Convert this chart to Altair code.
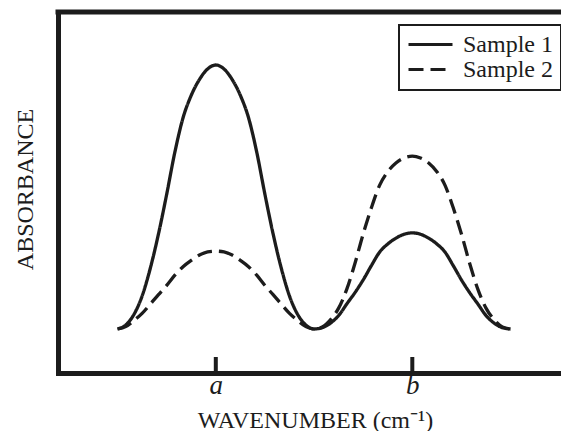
import altair as alt
import pandas as pd

# ---- data ----
x_vals = [round(-0.5 + 0.125 * i, 3) for i in range(49)]  # sample positions (axis units)
sample1 = [0.0, 0.015, 0.055, 0.125, 0.23, 0.36, 0.51, 0.67, 0.80, 0.885, 0.945, 0.985, 1.0,
           0.985, 0.945, 0.885, 0.80, 0.67, 0.51, 0.36, 0.23, 0.125, 0.055, 0.015, 0.0,
           0.005, 0.022, 0.051, 0.095, 0.138, 0.186, 0.240, 0.291, 0.322, 0.344, 0.359, 0.364,
           0.359, 0.344, 0.322, 0.291, 0.240, 0.186, 0.138, 0.095, 0.051, 0.022, 0.005, 0.0]
sample2 = [0.0, 0.009, 0.032, 0.059, 0.094, 0.130, 0.165, 0.204, 0.236, 0.260, 0.280, 0.292, 0.295,
           0.292, 0.280, 0.260, 0.236, 0.204, 0.165, 0.130, 0.094, 0.059, 0.032, 0.009, 0.0,
           0.008, 0.035, 0.079, 0.151, 0.249, 0.360, 0.459, 0.544, 0.596, 0.629, 0.648, 0.655,
           0.648, 0.629, 0.596, 0.544, 0.459, 0.360, 0.249, 0.151, 0.079, 0.035, 0.008, 0.0]
series_names = ["Sample 1", "Sample 2"]
tick_pos = [1, 4]
tick_labels = ["a", "b"]
x_title = "WAVENUMBER (cm\u207b\u00b9)"
y_title = "ABSORBANCE"

INK = "#1c1c1c"
FONT = "Liberation Serif"
W, H = 503, 361

df = pd.DataFrame({
    "x": x_vals * 2,
    "absorbance": sample1 + sample2,
    "series": [series_names[0]] * len(x_vals) + [series_names[1]] * len(x_vals),
})
ticks_df = pd.DataFrame({"x": tick_pos})
frame_df = pd.DataFrame({"k": [0]})

xscale = alt.Scale(domain=[-1.409, 6.27], nice=False, zero=False)
yscale = alt.Scale(domain=[-0.1667, 1.2008], nice=False, zero=False)

label_expr = "[" + ",".join(f"'{l}'" for l in tick_labels) + "][indexof([" + \
    ",".join(str(p) for p in tick_pos) + "], datum.value)]"

x_axis = alt.Axis(
    values=tick_pos, labelExpr=label_expr, title=x_title,
    domainWidth=5, domainColor=INK, domainCap="square",
    ticks=False, tickSize=0, grid=False,
    labelFont=FONT, labelFontStyle="italic", labelFontSize=27, labelColor=INK,
    labelBaseline="alphabetic", labelPadding=20, labelAngle=0,
    titleFont=FONT, titleFontSize=24, titleFontWeight="normal", titleColor=INK,
    titleX=257, titleY=54, titleBaseline="alphabetic", titleAlign="center",
)
y_axis = alt.Axis(
    title=y_title, labels=False, ticks=False, tickSize=0, grid=False,
    domainWidth=5, domainColor=INK, domainCap="square",
    titleFont=FONT, titleFontSize=24, titleFontWeight="normal", titleColor=INK,
    titleX=-26, titleY=177, titleAngle=270, titleAlign="center",
    titleBaseline="alphabetic",
)

lines = alt.Chart(df).mark_line(interpolate="monotone", strokeWidth=3.3, color=INK).encode(
    x=alt.X("x:Q", scale=xscale, axis=x_axis),
    y=alt.Y("absorbance:Q", scale=yscale, axis=y_axis),
    strokeDash=alt.StrokeDash(
        "series:N",
        scale=alt.Scale(domain=series_names, range=[[1, 0], [15, 7]]),
        legend=alt.Legend(
            title=None, orient="none", legendX=341, legendY=13,
            symbolType="stroke", symbolSize=1936, symbolStrokeWidth=3,
            symbolStrokeColor=INK, labelFont=FONT, labelFontSize=24,
            labelColor=INK, labelOffset=9, padding=8, strokeColor=INK,
            fillColor="white", clipHeight=23, rowPadding=0,
        ),
    ),
)

ticks = alt.Chart(ticks_df).mark_rule(strokeWidth=4, color=INK).encode(
    x=alt.X("x:Q", scale=xscale, axis=x_axis),
    y=alt.value(H),
    y2=alt.value(H - 16),
)

top = alt.Chart(frame_df).mark_rule(strokeWidth=5, color=INK, strokeCap="square").encode(
    x=alt.value(0), x2=alt.value(W), y=alt.value(0)
)

chart = alt.layer(lines, ticks, top).properties(
    width=W, height=H,
    padding={"left": 58, "top": 12, "right": 0, "bottom": 58},
    autosize=alt.AutoSizeParams(type="none"),
    background="white",
).configure_view(stroke=None).configure_legend(strokeWidth=2)

chart.save("out.html", embed_options={"renderer": "svg", "actions": False})
